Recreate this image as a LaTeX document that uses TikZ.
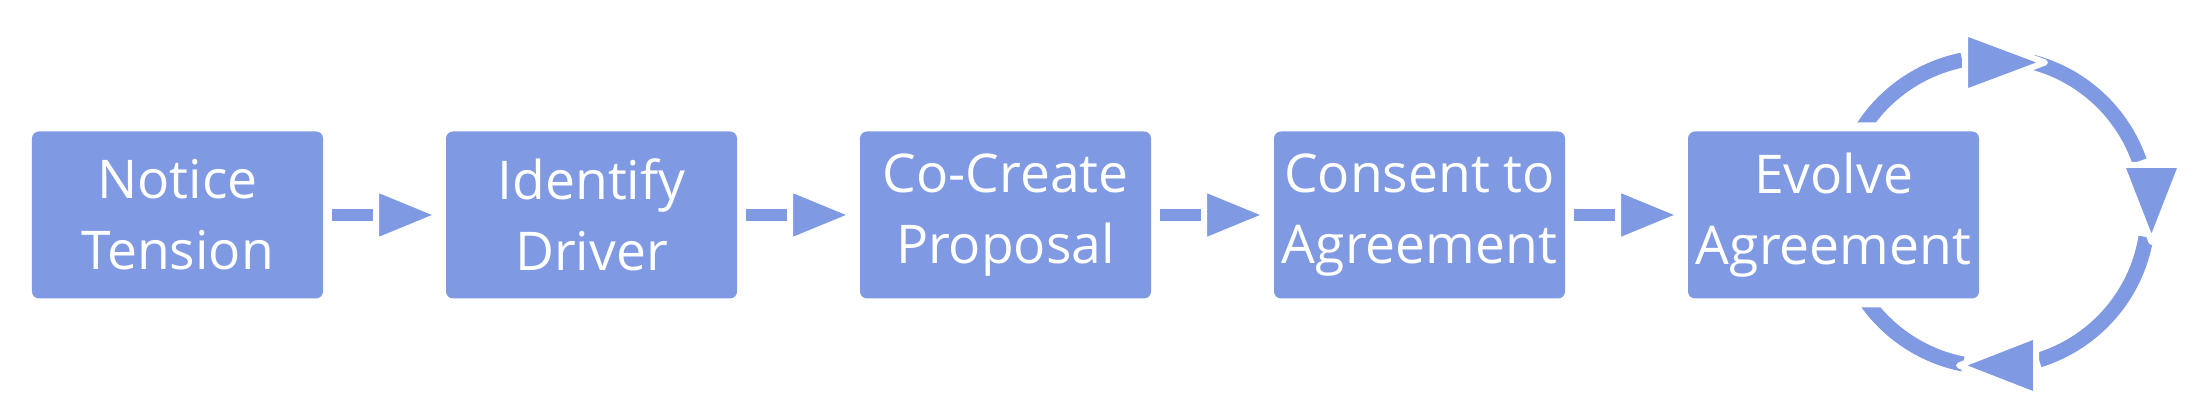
\documentclass[tikz,border=0pt]{standalone}
\usepackage{fontspec}
\setmainfont{Open Sans}
\usepackage{tikz}
\usetikzlibrary{calc}
\usetikzlibrary{arrows.meta}
\usetikzlibrary{positioning}
\usetikzlibrary{backgrounds}
\definecolor{periwinkle}{RGB}{127, 153, 227}

\tikzset{
    stepbox/.style={fill=periwinkle, text=white, rounded corners=0.07cm, inner sep=0pt, outer sep=0pt,
                    minimum width=2.91cm, minimum height=1.67cm, align=center,
                    font=\fontsize{15.2}{20.2}\selectfont},
    halo/.style={preaction={draw=white, line width=0.18cm}},
    flow/.style={periwinkle, line width=0.115cm, shorten <=0.09cm, shorten >=0.03cm,
                 -{Triangle[length=0.75cm, width=0.60cm, color=white, fill=periwinkle, line width=0.06cm 0, round]}},
    loopline/.style={periwinkle, line width=0.15cm},
    looptip/.style={fill=periwinkle, draw=white, line width=0.06cm, line join=round},
}

\begin{document}
\begin{tikzpicture}
            \useasboundingbox (0.00, 0.00) rectangle (22.00, 4.20);
            \node[stepbox]                           (notice)   at (1.775, 2.05) {Notice\\Tension};
            \node[stepbox, right=1.23cm of notice]   (driver)   {Identify\\Driver};
            \node[stepbox, right=1.23cm of driver]   (proposal) {Co-Create\\Proposal};
            \node[stepbox, right=1.23cm of proposal] (consent)  {Consent to\\Agreement};
            \node[stepbox, halo, right=1.23cm of consent] (evolve) {Evolve\\Agreement};

            \draw[flow] (notice)   -- (driver);
            \draw[flow] (driver)   -- (proposal);
            \draw[flow] (proposal) -- (consent);
            \draw[flow] (consent)  -- (evolve);

            % the loop round the last step
            \coordinate (loop) at ($(evolve.center)+(1.595, 0.03)$);
            \begin{scope}[on background layer, shift={(loop)}]
                \draw[loopline] ( 152.0:1.55) arc[start angle= 152.0, end angle= 101.5, radius=1.55];
                \draw[loopline] (  75.4:1.55) arc[start angle=  75.4, end angle=  19.2, radius=1.55];
                \draw[loopline] (  -9.3:1.55) arc[start angle=  -9.3, end angle= -72.7, radius=1.55];
                \draw[loopline] (-101.2:1.55) arc[start angle=-101.2, end angle=-148.0, radius=1.55];
                \filldraw[looptip] (-0.28,  1.195) -- (-0.28,  1.795) -- ( 0.52,  1.495) -- cycle;
                \filldraw[looptip] ( 1.285, 0.47)  -- ( 1.885, 0.47)  -- ( 1.585, -0.30) -- cycle;
                \filldraw[looptip] ( 0.43, -1.235) -- ( 0.43, -1.835) -- (-0.34, -1.535) -- cycle;
            \end{scope}
        \end{tikzpicture}
\end{document}
